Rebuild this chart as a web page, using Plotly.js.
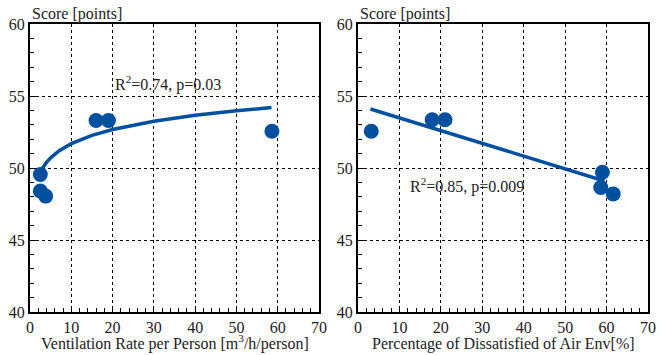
<!DOCTYPE html>
<html>
<head>
<meta charset="utf-8">
<script src="https://cdn.plot.ly/plotly-3.0.1.min.js"></script>
<style>html,body{margin:0;padding:0;background:#fff}#chart{width:664px;height:355px}</style>
</head>
<body>
<div id="chart"></div>
<script>
// Left panel: ventilation rate vs score
const ventX = [2.5, 2.5, 3.8, 16.0, 19.0, 58.6];
const ventY = [49.55, 48.4, 48.05, 53.3, 53.3, 52.55];
// Fitted curve (log)
const ventFitX = [2.2, 3, 4, 5, 7, 10, 15, 20, 30, 40, 50, 58.5];
const ventFitY = [49.54, 49.98, 50.39, 50.71, 51.18, 51.69, 52.27, 52.67, 53.25, 53.66, 53.97, 54.2];
// Right panel: percentage dissatisfied vs score
const pdX = [3.2, 17.9, 21.0, 59.0, 58.6, 61.6];
const pdY = [52.55, 53.35, 53.35, 49.7, 48.65, 48.2];
const pdFitX = [3, 59.5];
const pdFitY = [54.1, 49.1];
const ann1 = 'R<sup>2</sup>=0.74, p=0.03';
const ann2 = 'R<sup>2</sup>=0.85, p=0.009';
const xTitle1 = 'Ventilation Rate per Person [m<sup>3</sup>/h/person]';
const xTitle2 = 'Percentage of Dissatisfied of Air Env[%]';
const yTitle = 'Score [points]';

const blue = '#00509F';
const font = {family: '"Liberation Serif", "Times New Roman", serif', size: 16, color: '#222'};

function xaxis(domain, anchor) {
  return {
    domain: domain, anchor: anchor, range: [0, 70], dtick: 10, tick0: 0,
    showline: true, linecolor: '#000', linewidth: 2, mirror: true,
    ticks: 'inside', ticklen: 6, tickcolor: '#000', tickwidth: 1,
    minor: {dtick: 2, ticks: 'inside', ticklen: 4, tickcolor: '#000', showgrid: false},
    showgrid: true, gridcolor: '#000', griddash: 'dot', gridwidth: 1,
    zeroline: false, tickfont: font, fixedrange: true
  };
}
function yaxis(domain, anchor) {
  return {
    domain: domain, anchor: anchor, range: [40, 60], dtick: 5, tick0: 40,
    showline: true, linecolor: '#000', linewidth: 2, mirror: true,
    ticks: 'inside', ticklen: 6, tickcolor: '#000', tickwidth: 1,
    minor: {dtick: 1, ticks: 'inside', ticklen: 4, tickcolor: '#000', showgrid: false},
    showgrid: true, gridcolor: '#000', griddash: 'dot', gridwidth: 1,
    zeroline: false, tickfont: font, fixedrange: true
  };
}

const W = 664, H = 355;
const yDom = [(H - 312) / H, (H - 24) / H];

const data = [
  {x: ventFitX, y: ventFitY, xaxis: 'x', yaxis: 'y', mode: 'lines', line: {color: blue, width: 3.5}, hoverinfo: 'skip'},
  {x: ventX, y: ventY, xaxis: 'x', yaxis: 'y', mode: 'markers', marker: {color: blue, size: 15}},
  {x: pdFitX, y: pdFitY, xaxis: 'x2', yaxis: 'y2', mode: 'lines', line: {color: blue, width: 3.5}, hoverinfo: 'skip'},
  {x: pdX, y: pdY, xaxis: 'x2', yaxis: 'y2', mode: 'markers', marker: {color: blue, size: 15}}
];

const layout = {
  width: W, height: H, margin: {l: 0, r: 0, t: 0, b: 0},
  paper_bgcolor: '#fff', plot_bgcolor: '#fff', showlegend: false, font: font,
  xaxis: xaxis([30 / W, 319 / W], 'y'),
  yaxis: yaxis(yDom, 'x'),
  xaxis2: xaxis([358 / W, 648 / W], 'y2'),
  yaxis2: yaxis(yDom, 'x2'),
  annotations: [
    {text: ann1, xref: 'x', yref: 'y', x: 33.5, y: 55.9, showarrow: false, font: font},
    {text: ann2, xref: 'x2', yref: 'y2', x: 26.3, y: 48.8, showarrow: false, font: font},
    {text: yTitle, xref: 'paper', yref: 'paper', x: 30 / W, y: (H - 14) / H, xanchor: 'left', yanchor: 'middle', showarrow: false, font: font},
    {text: yTitle, xref: 'paper', yref: 'paper', x: 358 / W, y: (H - 14) / H, xanchor: 'left', yanchor: 'middle', showarrow: false, font: font},
    {text: xTitle1, xref: 'paper', yref: 'paper', x: 174.5 / W, y: 0, xanchor: 'center', yanchor: 'bottom', showarrow: false, font: font},
    {text: xTitle2, xref: 'paper', yref: 'paper', x: 503 / W, y: 0, xanchor: 'center', yanchor: 'bottom', showarrow: false, font: font}
  ]
};

Plotly.newPlot('chart', data, layout, {displayModeBar: false, staticPlot: true});
</script>
</body>
</html>
